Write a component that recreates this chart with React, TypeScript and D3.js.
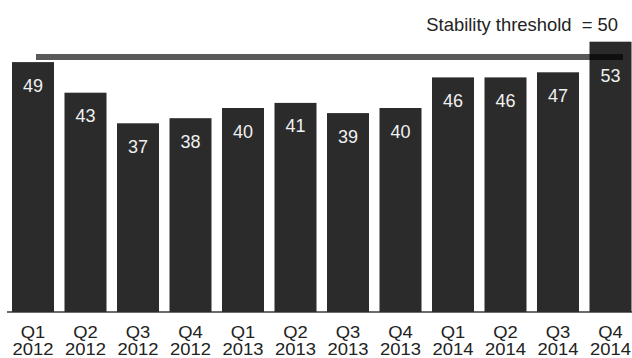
import React from "react";
import * as d3 from "d3";

const quarters = ["Q1", "Q2", "Q3", "Q4", "Q1", "Q2", "Q3", "Q4", "Q1", "Q2", "Q3", "Q4"];
const years = ["2012", "2012", "2012", "2012", "2013", "2013", "2013", "2013", "2014", "2014", "2014", "2014"];
const values = [49, 43, 37, 38, 40, 41, 39, 40, 46, 46, 47, 53];
const threshold = 50;
const thresholdLabel = "Stability threshold  = 50";

const W = 632;
const H = 358;
const FONT = "'Liberation Sans', Arial, sans-serif";

export default function App() {
  const ids = values.map((_, i) => String(i));
  const x = d3.scaleBand<string>().domain(ids).range([6.75, 636.75]).paddingInner(0.2).paddingOuter(0.1);
  const y = d3.scaleLinear().domain([0, 60]).range([312, 312 - 60 * 5.1]);
  const lineY = y(threshold);

  return (
    <svg
      width={W}
      height={H}
      style={{ position: "fixed", left: 0, top: 0, background: "#fff" }}
      fontFamily={FONT}
    >
      <line x1={7} x2={632} y1={312} y2={312} stroke="#3a3a3a" strokeWidth={1.5} />
      {values.map((v, i) => {
        const cx = x(ids[i])! + x.bandwidth() / 2;
        const ly = Math.max(y(v) + 29.5, v > threshold ? lineY + 25 : 0);
        return (
          <g key={i}>
            <rect x={x(ids[i])!} y={y(v)} width={x.bandwidth()} height={y(0) - y(v)} fill="#2b2b2b" />
            <text x={cx} y={ly} textAnchor="middle" fontSize={18} fill="#f0f0f0">
              {v}
            </text>
            <g transform={`translate(${cx},0) scale(1.15,1)`}>
              <text x={0} y={338.5} textAnchor="middle" fontSize={16} fill="#222">
                {quarters[i]}
              </text>
              <text x={0} y={355.5} textAnchor="middle" fontSize={16} fill="#222">
                {years[i]}
              </text>
            </g>
          </g>
        );
      })}
      <line
        x1={36}
        x2={623}
        y1={lineY}
        y2={lineY}
        stroke="#000"
        strokeOpacity={0.65}
        strokeWidth={6}
      />
      <text x={618} y={31} textAnchor="end" fontSize={18.4} fill="#222" style={{ whiteSpace: "pre" }}>
        {thresholdLabel}
      </text>
    </svg>
  );
}
